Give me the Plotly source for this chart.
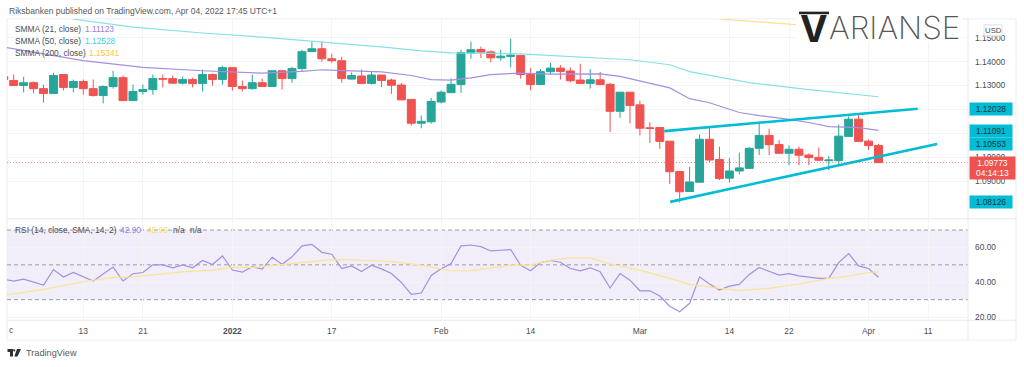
import plotly.graph_objects as go

# ---- price candles (index -1 .. 87) ----
candle_index = list(range(-1, 88))
high = [1.1346,1.1346,1.1337,1.1317,1.1304,1.1354,1.1346,1.1325,1.1325,1.1325,1.1300,1.1362,1.1342,1.1304,1.1304,1.1346,
        1.1346,1.1342,1.1337,1.1333,1.1367,1.1350,1.1383,1.1375,1.1321,1.1346,1.1329,1.1362,1.1362,1.1379,1.1450,1.1483,
        1.1483,1.1433,1.1421,1.1355,1.1367,1.1359,1.1344,1.1329,1.1311,1.1242,1.1174,1.1248,1.1279,1.1330,1.1450,1.1484,
        1.1463,1.1447,1.1450,1.1497,1.1429,1.1373,1.1369,1.1396,1.1386,1.1376,1.1391,1.1369,1.1357,1.1311,1.1272,1.1272,
        1.1236,1.1146,1.1124,1.1067,1.0940,1.0960,1.1095,1.1123,1.1044,1.0996,1.1019,1.1042,1.1140,1.1119,1.1071,1.1049,
        1.1044,1.1016,1.1040,1.1005,1.1137,1.1171,1.1183,1.1074,1.1056]
body_top = [1.1337,1.1321,1.1312,1.1312,1.1287,1.1342,1.1346,1.1317,1.1317,1.1287,1.1296,1.1333,1.1333,1.1275,1.1283,1.1329,
            1.1329,1.1329,1.1325,1.1325,1.1346,1.1346,1.1375,1.1375,1.1296,1.1312,1.1312,1.1362,1.1362,1.1371,1.1442,1.1454,
            1.1454,1.1412,1.1404,1.1342,1.1340,1.1344,1.1344,1.1323,1.1302,1.1242,1.1150,1.1233,1.1272,1.1305,1.1438,1.1450,
            1.1451,1.1441,1.1423,1.1427,1.1426,1.1346,1.1358,1.1373,1.1373,1.1361,1.1323,1.1324,1.1324,1.1305,1.1272,1.1272,
            1.1219,1.1123,1.1124,1.1067,1.0940,1.0896,1.1075,1.1075,1.0990,1.0942,1.0955,1.1037,1.1091,1.1091,1.1053,1.1033,
            1.1033,1.1009,1.0999,1.0988,1.1088,1.1159,1.1159,1.1067,1.1049]
body_bottom = [1.1325,1.1300,1.1300,1.1287,1.1267,1.1267,1.1292,1.1292,1.1287,1.1258,1.1258,1.1296,1.1237,1.1237,1.1275,1.1283,
               1.1327,1.1310,1.1310,1.1308,1.1308,1.1325,1.1325,1.1296,1.1287,1.1287,1.1296,1.1296,1.1329,1.1329,1.1371,1.1442,
               1.1412,1.1404,1.1329,1.1327,1.1309,1.1309,1.1321,1.1301,1.1240,1.1142,1.1142,1.1148,1.1231,1.1270,1.1304,1.1436,
               1.1440,1.1416,1.1416,1.1422,1.1346,1.1304,1.1304,1.1358,1.1359,1.1320,1.1309,1.1309,1.1304,1.1192,1.1192,1.1216,
               1.1121,1.1120,1.1066,1.0939,1.0855,1.0856,1.0895,1.0988,1.0910,1.0912,1.0942,1.0953,1.1037,1.1052,1.1016,1.1016,
               1.1008,1.0998,1.0987,1.0985,1.0985,1.1087,1.1066,1.1048,1.0977]
low = [1.1317,1.1300,1.1271,1.1267,1.1229,1.1267,1.1279,1.1271,1.1262,1.1254,1.1225,1.1287,1.1237,1.1237,1.1262,1.1262,
       1.1292,1.1308,1.1304,1.1292,1.1275,1.1300,1.1304,1.1279,1.1275,1.1283,1.1296,1.1296,1.1283,1.1312,1.1358,1.1442,
       1.1400,1.1396,1.1312,1.1325,1.1306,1.1304,1.1293,1.1265,1.1238,1.1133,1.1121,1.1140,1.1225,1.1269,1.1269,1.1412,
       1.1415,1.1397,1.1404,1.1376,1.1329,1.1280,1.1304,1.1346,1.1325,1.1313,1.1309,1.1287,1.1304,1.1106,1.1165,1.1141,
       1.1091,1.1059,1.1035,1.0887,1.0810,1.0856,1.0895,1.0980,1.0904,1.0894,1.0928,1.0953,1.1009,1.1008,1.1016,1.0966,
       1.0966,1.0966,1.0984,1.0946,1.0970,1.1087,1.1066,1.1030,1.0977]
is_up = [0,0,1,0,0,1,0,1,0,0,1,1,0,1,1,1,
         0,0,1,0,1,0,1,0,0,1,0,1,0,1,1,1,
         0,0,0,1,0,1,0,0,0,0,1,1,1,1,1,1,
         0,0,1,1,0,0,1,1,0,0,0,1,0,0,1,0,
         0,0,0,0,0,1,1,0,0,1,1,1,1,0,0,1,
         0,0,0,1,1,1,0,0,0]
opens = [b if u else t for t, b, u in zip(body_top, body_bottom, is_up)]
closes = [t if u else b for t, b, u in zip(body_top, body_bottom, is_up)]

# ---- moving averages ----
smma21_idx = [-0.7,7,13,19,25,29,31,34,37,40,42,44,46,48,51,54,59,61,63,66,68,70,73,75,78,80,82,85,87]
smma21_val = [1.1459,1.1404,1.1376,1.1362,1.1352,1.1359,1.1366,1.1362,1.1357,1.1342,1.1325,1.1323,1.1332,1.1346,1.1352,
              1.1348,1.1349,1.1338,1.1320,1.1290,1.1245,1.1228,1.1187,1.1174,1.1158,1.1145,1.1128,1.1124,1.1112]
smma50_idx = [5.9,12,19,26,32,37,41,44,51,57,62,66,68,74,80,87]
smma50_val = [1.1579,1.1545,1.1520,1.1500,1.1479,1.1462,1.1445,1.1437,1.1433,1.1420,1.1408,1.1387,1.1358,1.1312,1.1283,1.1253]
smma200_idx = [71,75,79,87]
smma200_val = [1.1579,1.1566,1.1554,1.1534]

# ---- drawn trend lines ----
upper_idx = [65.45, 90.95]
upper_val = [1.11091, 1.12028]
lower_idx = [66.05, 92.9]
lower_val = [1.08126, 1.10553]

# ---- RSI ----
rsi_idx = list(range(-1, 88))
rsi_val = [41.6,40.7,41.8,39.9,38.4,47.3,43.0,45.6,43.1,40.7,44.7,48.7,40.7,44.9,45.6,50.0,50.0,48.3,50.0,48.3,52.5,50.2,
           55.1,47.0,45.8,48.9,47.5,54.4,50.4,54.6,60.9,61.8,57.2,56.1,47.9,49.4,46.2,49.8,47.7,45.0,39.9,33.0,33.8,43.9,
           47.7,50.8,60.9,61.4,60.5,58.0,58.4,58.8,49.8,46.6,51.3,52.5,51.5,47.9,46.6,48.3,46.0,36.7,45.0,41.2,35.1,35.1,
           32.1,26.2,23.1,27.9,43.1,39.0,35.5,37.8,38.8,44.5,48.5,46.2,44.1,45.0,43.7,43.0,42.2,42.2,51.3,56.5,49.4,47.9,42.9]
rsi_ma_idx = [-0.7,3,7,10,12,17,20,22,24,29,32,34,38,41,44,46,50,52,54,56,58,60,63,66,68,71,73,76,79,82,84,86,87]
rsi_ma_val = [32.7,35.9,40.3,42.8,43.1,46.0,47.0,48.5,48.5,51.1,53.0,52.9,51.9,49.8,46.6,46.7,49.8,49.8,52.7,54.0,54.0,50.4,
              47.0,42.2,38.8,36.5,35.3,36.5,39.0,42.2,43.5,45.6,45.96]

# ---- labels ----
x_tick_vals = [7,13,22,32,43,52,63,72,78,86,92]
x_tick_text = ["13","21","<b>2022</b>","17","Feb","14","Mar","14","22","Apr","11"]
price_ticks = [1.09,1.10,1.11,1.12,1.13,1.14,1.15]
price_tick_text = ["1.09000","1.10000","","","1.13000","1.14000","1.15000"]
rsi_ticks = [20,40,60]
rsi_tick_text = ["20.00","40.00","60.00"]
last_price = 1.09773
tags = [1.12028, 1.11091, 1.10553, 1.08126]

W, H = 1024, 367
def X(p): return p / W
def Y(p): return 1 - p / H

UP, DOWN = "#26a69a", "#ef5350"
PURPLE, TEAL, GOLD = "#a48fe0", "#86e0e8", "#ffdf8a"
CYAN = "#00bcd4"
GRID = "#f4f4f7"
TXT = "#4a4d55"
FONT = "Liberation Sans"

fig = go.Figure()
fig.add_trace(go.Candlestick(
    x=candle_index, open=opens, high=high, low=low, close=closes,
    increasing=dict(line=dict(color=UP, width=1), fillcolor=UP),
    decreasing=dict(line=dict(color=DOWN, width=1), fillcolor=DOWN),
    whiskerwidth=0, hoverinfo="skip", showlegend=False))
for xs, ys, col, w in [(smma21_idx, smma21_val, PURPLE, 1.2), (smma50_idx, smma50_val, TEAL, 1.2),
                       (smma200_idx, smma200_val, GOLD, 1.2), (upper_idx, upper_val, CYAN, 2.6),
                       (lower_idx, lower_val, CYAN, 2.6)]:
    fig.add_trace(go.Scatter(x=xs, y=ys, mode="lines", line=dict(color=col, width=w),
                             hoverinfo="skip", showlegend=False, cliponaxis=True))
fig.add_trace(go.Scatter(x=rsi_idx, y=rsi_val, mode="lines", xaxis="x2", yaxis="y2",
                         line=dict(color=PURPLE, width=1.2), hoverinfo="skip", showlegend=False))
fig.add_trace(go.Scatter(x=rsi_ma_idx, y=rsi_ma_val, mode="lines", xaxis="x2", yaxis="y2",
                         line=dict(color="#f6e593", width=1.2), hoverinfo="skip", showlegend=False))

xr = [(7 - 13.7) / 9.94, (968 - 13.7) / 9.94]
shapes = [
    dict(type="rect", xref="paper", yref="y2", x0=X(7), x1=X(968), y0=30, y1=70, layer="below",
         fillcolor="rgba(126,87,194,0.10)", line_width=0),
    dict(type="line", xref="paper", yref="y", x0=X(7), x1=X(968), y0=last_price, y1=last_price, layer="above",
         line=dict(color="rgba(239,83,80,0.65)", width=1, dash="1px,2px")),
    dict(type="rect", xref="paper", yref="paper", x0=X(7), x1=X(1016), y0=Y(342), y1=Y(19), layer="below",
         line=dict(color="#ececf1", width=1)),
    dict(type="line", xref="paper", yref="paper", x0=X(968), x1=X(968), y0=Y(342), y1=Y(19), layer="above",
         line=dict(color="#e8e8ee", width=1)),
    dict(type="line", xref="paper", yref="paper", x0=X(7), x1=X(1016), y0=Y(220), y1=Y(220), layer="below",
         line=dict(color="#e8e8ee", width=1)),
    dict(type="line", xref="paper", yref="paper", x0=X(7), x1=X(1016), y0=Y(322), y1=Y(322), layer="below",
         line=dict(color="#e8e8ee", width=1)),
    # logo backdrop
    dict(type="rect", xref="paper", yref="paper", x0=X(796), x1=X(962), y0=Y(42), y1=Y(8), layer="above",
         fillcolor="white", line_width=0),
    dict(type="rect", xref="paper", yref="paper", x0=X(799), x1=X(829), y0=Y(14.3), y1=Y(11.7), layer="above",
         fillcolor="#222222", line_width=0),
    # USD button
    dict(type="rect", xref="paper", yref="paper", x0=X(984), x1=X(1002), y0=Y(36), y1=Y(25), layer="above",
         fillcolor="white", line=dict(color="#dfe0e5", width=1)),
    # TradingView mark
    dict(type="path", xref="paper", yref="paper", layer="above", fillcolor="#2a2e39", line_width=0,
         path=f"M {X(7.5)} {Y(351)} L {X(13)} {Y(351)} L {X(13)} {Y(358.5)} L {X(10)} {Y(358.5)} L {X(10)} {Y(354)} L {X(7.5)} {Y(354)} Z"),
    dict(type="circle", xref="paper", yref="paper", layer="above", fillcolor="#2a2e39", line_width=0,
         x0=X(13.2), x1=X(15.4), y0=Y(353.4), y1=Y(351.2)),
    dict(type="path", xref="paper", yref="paper", layer="above", fillcolor="#2a2e39", line_width=0,
         path=f"M {X(17)} {Y(351)} L {X(21)} {Y(351)} L {X(17.5)} {Y(358.5)} L {X(14.3)} {Y(358.5)} Z"),
]
for lvl in (70, 50, 30):
    shapes.append(dict(type="line", xref="paper", yref="y2", x0=X(7), x1=X(968), y0=lvl, y1=lvl, layer="below",
                       line=dict(color="#9a9ca5", width=1, dash="4px,3px")))

def px_text(x, y, text, color=TXT, size=8.4, anchor="left", **kw):
    return dict(xref="paper", yref="paper", x=X(x), y=Y(y), text=text, showarrow=False, xanchor=anchor,
                yanchor="middle", font=dict(family=kw.pop("family", FONT), size=size, color=color), **kw)

ann = [
    px_text(7, 11, "Riksbanken published on TradingView.com, Apr 04, 2022 17:45 UTC+1", color="#555860", size=8.5),
    px_text(13, 29.5, "SMMA (21, close)"), px_text(83, 29.5, "1.11123", color="#9a80dc"),
    px_text(13, 41.5, "SMMA (50, close)"), px_text(83, 41.5, "1.12528", color="#3fd0de"),
    px_text(13, 53.5, "SMMA (200, close)"), px_text(87, 53.5, "1.15341", color="#ffc53d"),
    px_text(13, 231.5, "RSI (14, close, SMA, 14, 2)"), px_text(118, 231.5, "42.90", color="#9a80dc"),
    px_text(145, 231.5, "45.96", color="#f5e06a"), px_text(171, 231.5, "n/a"), px_text(188, 231.5, "n/a"),
    px_text(7, 332, "c", size=8.4),
    px_text(993, 30.5, "USD", size=7.8, anchor="center"),
    px_text(24, 354.5, "TradingView", size=9.2, color="#555860"),
    px_text(813.5, 28.5, "<b>V</b>", color="#222222", size=37, anchor="center", family="Inter"),
    dict(xref="paper", yref="paper", x=X(827), y=Y(28), text="ARIANSE", showarrow=False, xanchor="left",
         yanchor="middle", font=dict(family="Inter", size=31.5, color="#555555", weight=200)),
]
for v in tags:
    ann.append(dict(xref="paper", yref="y", x=X(968.5), y=v, xanchor="left", yanchor="middle", showarrow=False,
                    text=f"{v:.5f}", width=42, height=11.5, borderpad=0, bgcolor="#00bcd4", align="center",
                    font=dict(family=FONT, size=8.4, color="#10363c")))
ann.append(dict(xref="paper", yref="y", x=X(968.5), y=last_price, xanchor="left", yanchor="top", yshift=6.5,
                showarrow=False, text=f"{last_price:.5f}<br>04:14:13", width=45, height=22, borderpad=0,
                bgcolor="#ef5350", align="center", font=dict(family=FONT, size=8.4, color="white")))

fig.update_layout(
    width=W, height=H, autosize=False, margin=dict(l=0, r=0, t=0, b=0),
    paper_bgcolor="white", plot_bgcolor="white", boxgap=0.2, boxgroupgap=0, showlegend=False,
    font=dict(family=FONT, size=8.4, color=TXT),
    shapes=shapes, annotations=ann,
    xaxis=dict(domain=[X(7), X(968)], range=xr, anchor="y", tickvals=x_tick_vals, showticklabels=False,
               showgrid=True, gridcolor=GRID, gridwidth=1, zeroline=False, rangeslider=dict(visible=False),
               ticks="", showline=False),
    xaxis2=dict(domain=[X(7), X(968)], range=xr, anchor="y2", tickvals=x_tick_vals, ticktext=x_tick_text,
                showgrid=True, gridcolor=GRID, gridwidth=1, zeroline=False, ticks="", showline=False,
                tickangle=0, ticklabelstandoff=4, tickfont=dict(family=FONT, size=8.4, color=TXT)),
    yaxis=dict(domain=[Y(220), Y(19)], range=[1.165833 - 220 / 2400, 1.165833 - 19 / 2400], side="right",
               anchor="x", tickvals=price_ticks, ticktext=price_tick_text, showgrid=True, gridcolor=GRID,
               zeroline=False, ticks="", showline=False, ticklabelstandoff=6,
               tickfont=dict(family=FONT, size=8.4, color=TXT)),
    yaxis2=dict(domain=[Y(322), Y(220)], range=[18.17, 76.46], side="right", anchor="x2", tickvals=rsi_ticks,
                ticktext=rsi_tick_text, showgrid=True, gridcolor=GRID, zeroline=False, ticks="", showline=False,
                ticklabelstandoff=6, tickfont=dict(family=FONT, size=8.4, color=TXT)),
)
fig.write_html("out.html", config=dict(displayModeBar=False),
               post_script="document.body.style.margin='0';")
